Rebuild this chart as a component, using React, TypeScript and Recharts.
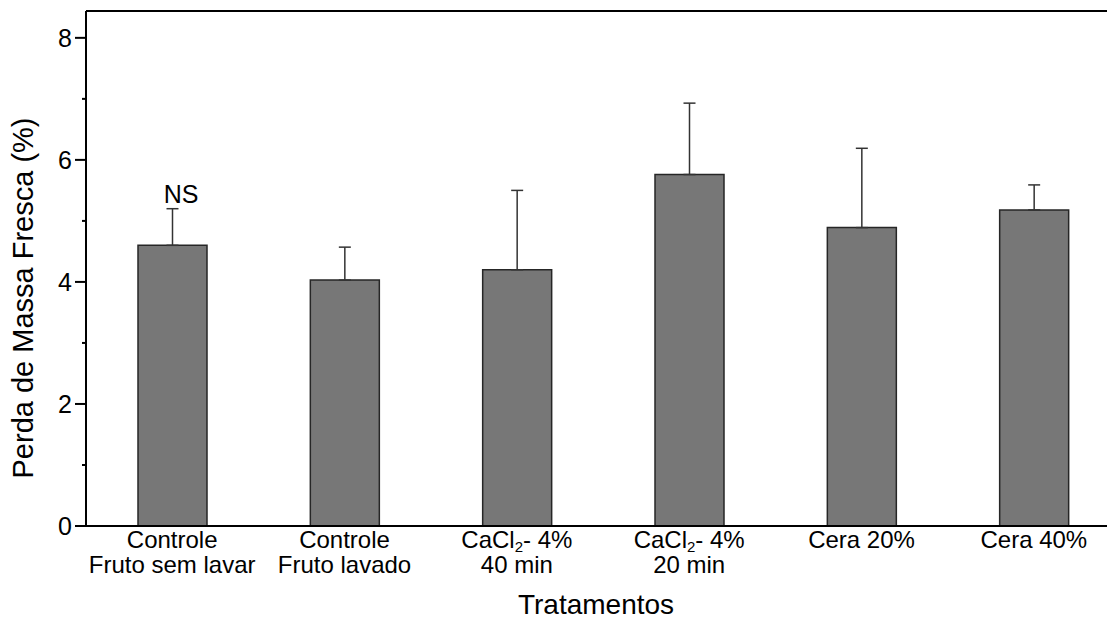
import { BarChart, Bar, XAxis, YAxis, ErrorBar, ReferenceLine, ReferenceDot } from "recharts";

const treatments = [
  "Controle Fruto sem lavar",
  "Controle Fruto lavado",
  "CaCl2- 4% 40 min",
  "CaCl2- 4% 20 min",
  "Cera 20%",
  "Cera 40%",
];
// "_" marks the next character as a subscript
const labelTop = ["Controle", "Controle", "CaCl_2- 4%", "CaCl_2- 4%", "Cera 20%", "Cera 40%"];
const labelBottom = ["Fruto sem lavar", "Fruto lavado", "40 min", "20 min", "", ""];

const massLoss = [4.6, 4.03, 4.2, 5.76, 4.89, 5.18];
const errorUp = [0.6, 0.54, 1.3, 1.17, 1.3, 0.41];

const yTicks = [0, 1, 2, 3, 4, 5, 6, 7, 8];
const Y_MAX = 8.44;
const FONT = "Arial, 'Liberation Sans', sans-serif";

const data = treatments.map((name, i) => ({
  name,
  value: massLoss[i],
  err: [0, errorUp[i]],
}));

function LabelText({ text }: { text: string }) {
  const i = text.indexOf("_");
  if (i < 0) return <>{text}</>;
  return (
    <>
      {text.slice(0, i)}
      <tspan fontSize={15} dy={4}>{text[i + 1]}</tspan>
      <tspan dy={-4}>{text.slice(i + 2)}</tspan>
    </>
  );
}

function TreatmentTick(props: any) {
  const { x, y, payload } = props;
  const i = treatments.indexOf(payload.value);
  return (
    <text x={x} y={y} textAnchor="middle" fontSize={24} fontFamily={FONT} fill="#000">
      <tspan x={x} dy={22}>
        <LabelText text={labelTop[i]} />
      </tspan>
      {labelBottom[i] && (
        <tspan x={x} dy={24.5}>
          {labelBottom[i]}
        </tspan>
      )}
    </text>
  );
}

function MassTick(props: any) {
  const { x, y, payload } = props;
  const major = payload.value % 2 === 0;
  return (
    <g>
      <line x1={x + (major ? 3 : 10)} x2={x + 14} y1={y} y2={y} stroke="#000" strokeWidth={2} />
      {major && (
        <text x={x} y={y} dy="0.36em" textAnchor="end" fontSize={25} fontFamily={FONT} fill="#000">
          {payload.value}
        </text>
      )}
    </g>
  );
}

const yTitle = (props: any) => {
  const vb = props.viewBox;
  const x = vb.x + 33;
  const y = vb.y + vb.height / 2 + 29.5;
  return (
    <text x={x} y={y} transform={`rotate(-90, ${x}, ${y})`} textAnchor="middle" fontSize={29} fontFamily={FONT} fill="#000">
      Perda de Massa Fresca (%)
    </text>
  );
};

const xTitle = (props: any) => {
  const vb = props.viewBox;
  return (
    <text x={vb.x + vb.width / 2 - 7} y={vb.y + 88} textAnchor="middle" fontSize={28} fontFamily={FONT} fill="#000">
      Tratamentos
    </text>
  );
};

export default function App() {
  return (
    <div
      style={{
        position: "absolute",
        left: 0,
        top: 0,
        width: 1107,
        height: 619,
        overflow: "hidden",
        background: "#fff",
      }}
    >
      <BarChart width={1130} height={619} data={data} margin={{ top: 11, right: 10, left: 0, bottom: 0 }}>
        <XAxis
          dataKey="name"
          height={93}
          interval={0}
          tickLine={false}
          tickSize={0}
          tickMargin={0}
          tick={<TreatmentTick />}
          axisLine={{ stroke: "#000", strokeWidth: 2 }}
          label={xTitle}
        />
        <YAxis
          width={86}
          domain={[0, Y_MAX]}
          ticks={yTicks}
          interval={0}
          allowDataOverflow
          tickLine={false}
          tickSize={10}
          tickMargin={4}
          tick={<MassTick />}
          axisLine={{ stroke: "#000", strokeWidth: 2 }}
          label={yTitle}
        />
        <ReferenceLine y={Y_MAX} stroke="#000" strokeWidth={2} />
        <Bar
          dataKey="value"
          fill="#777777"
          stroke="#262626"
          strokeWidth={1.5}
          barSize={69}
          isAnimationActive={false}
        >
          <ErrorBar dataKey="err" width={6} stroke="#333" strokeWidth={1.5} direction="y" isAnimationActive={false} />
        </Bar>
        <ReferenceDot
          x={treatments[0]}
          y={massLoss[0] + errorUp[0]}
          r={0}
          fill="none"
          stroke="none"
          label={{ value: "NS", position: "top", offset: 6, dx: 9, fontSize: 25, fontFamily: FONT, fill: "#000" }}
        />
      </BarChart>
    </div>
  );
}
